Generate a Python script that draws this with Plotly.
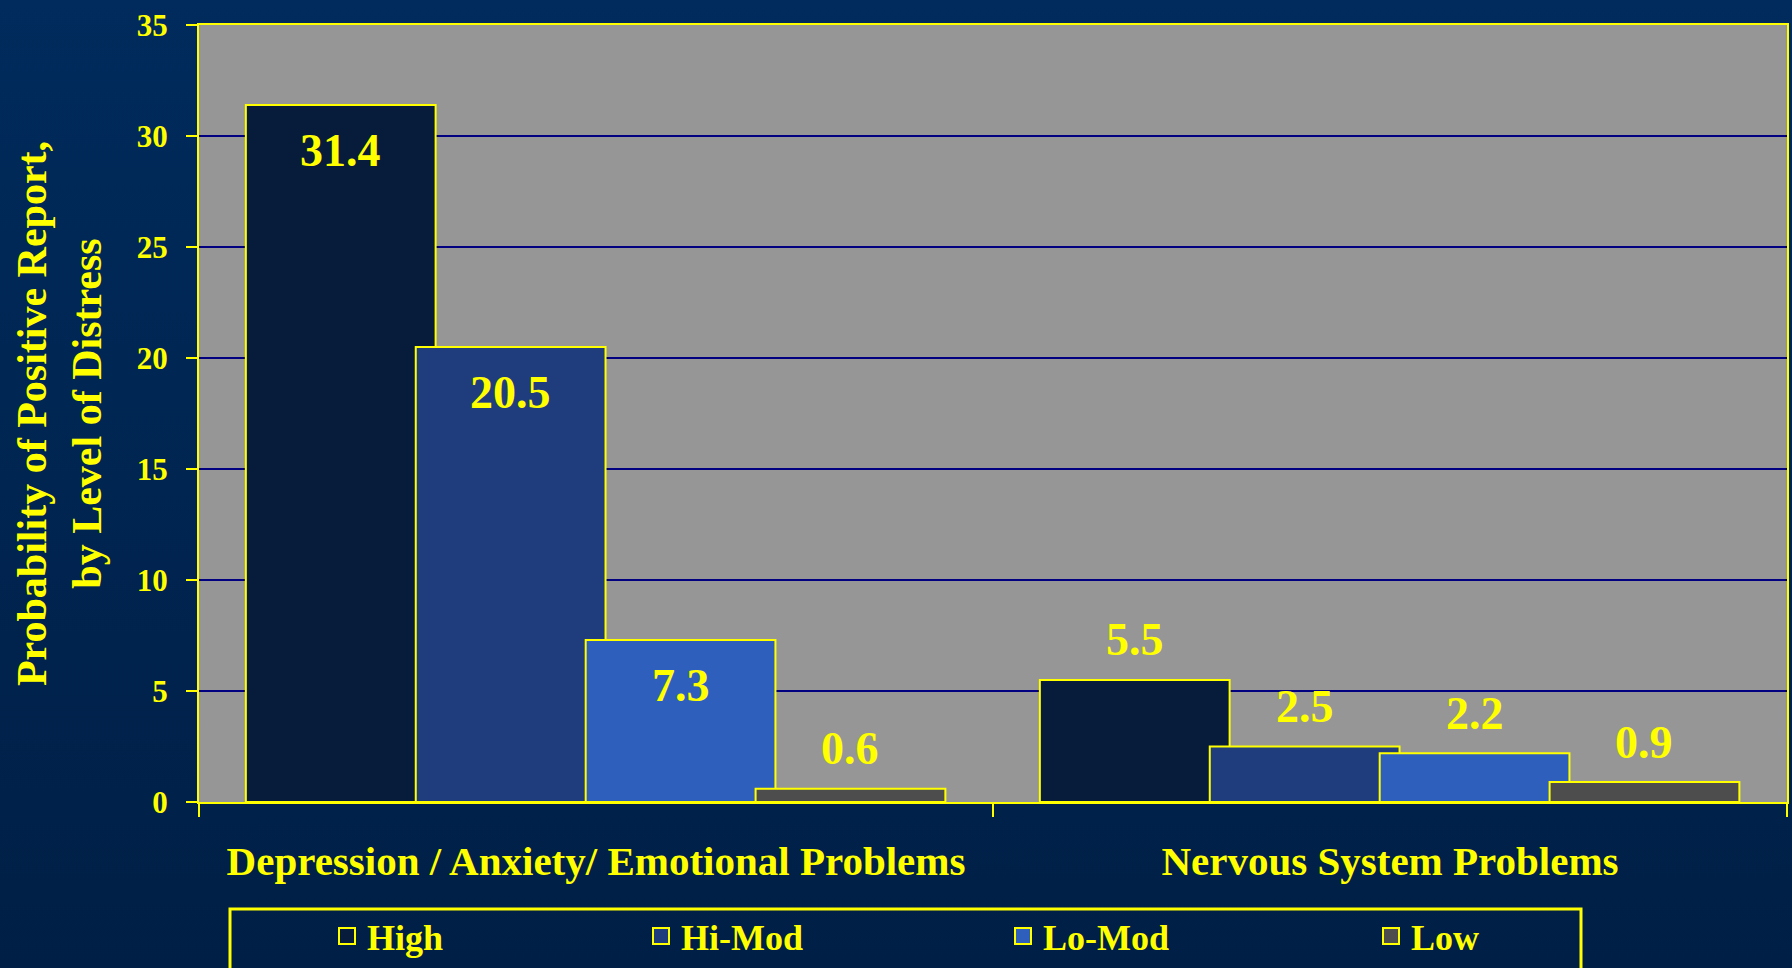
import base64
import plotly.graph_objects as go

# ---------------- data ----------------
categories = ["Depression / Anxiety/ Emotional Problems", "Nervous System Problems"]
series_names = ["High", "Hi-Mod", "Lo-Mod", "Low"]
high = [31.4, 5.5]
hi_mod = [20.5, 2.5]
lo_mod = [7.3, 2.2]
low = [0.6, 0.9]
y_tick_values = [0, 5, 10, 15, 20, 25, 30, 35]
y_title = "Probability of Positive Report,<br>by Level of Distress"

# ---------------- style ----------------
W, H = 1792, 968
ML, MR, MT, MB = 199, 5, 25, 166
PW, PH = W - ML - MR, H - MT - MB
FONT = "Liberation Serif, Times New Roman, serif"
YELLOW = "#ffff00"
colors = ["#071c3b", "#1f3d7c", "#2f5fbd", "#4d4d4d"]
bar_width = 0.239
offsets = [-0.441, -0.227, -0.013, 0.201]
legend_ids = ["legend", "legend2", "legend3", "legend4"]
legend_px = [327, 641, 1003, 1371]   # pixel x of each legend entry
legend_py = 936
inside_threshold = 6

series_values = [high, hi_mod, lo_mod, low]

fig = go.Figure()
annotations = []
for name, vals, color, off, leg in zip(series_names, series_values, colors, offsets, legend_ids):
    fig.add_trace(go.Bar(
        x=categories, y=vals, name=name, showlegend=False,
        width=bar_width, offset=off,
        marker=dict(color=color, line=dict(color=YELLOW, width=2)),
        hoverinfo="x+y+name",
    ))
    # legend entry (square swatch with yellow outline)
    fig.add_trace(go.Scatter(
        x=[None], y=[None], mode="markers", name=name, legend=leg,
        marker=dict(symbol="square", size=16, color=color, line=dict(color=YELLOW, width=2)),
        hoverinfo="skip",
    ))
    for i, v in enumerate(vals):
        inside = v > inside_threshold
        annotations.append(dict(
            x=i + off + bar_width / 2, y=v, xref="x", yref="y",
            text=f"{v:.1f}", showarrow=False,
            yshift=-46 if inside else 40,
            font=dict(family=FONT, size=46, color=YELLOW, weight="bold"),
        ))

# gradient background image
svg = ('<svg xmlns="http://www.w3.org/2000/svg" width="10" height="100" viewBox="0 0 10 100" '
       'preserveAspectRatio="none">'
       '<defs><linearGradient id="g" x1="0" y1="0" x2="0" y2="1">'
       '<stop offset="0" stop-color="#002b5c"/><stop offset="1" stop-color="#001f46"/>'
       '</linearGradient></defs><rect width="10" height="100" fill="url(#g)"/></svg>')
src = "data:image/svg+xml;base64," + base64.b64encode(svg.encode()).decode()

layout_legends = {}
for leg, px in zip(legend_ids, legend_px):
    layout_legends[leg] = dict(
        x=(px - ML) / PW, y=(MT + PH - legend_py) / PH, xanchor="left", yanchor="middle",
        orientation="h", bgcolor="rgba(0,0,0,0)", borderwidth=0,
        font=dict(family=FONT, size=36, color=YELLOW, weight="bold"),
    )

fig.update_layout(
    width=W, height=H,
    margin=dict(l=ML, r=MR, t=MT, b=MB, autoexpand=False),
    paper_bgcolor="#00265a",
    plot_bgcolor="rgba(0,0,0,0)",
    barmode="overlay",
    showlegend=True,
    annotations=annotations,
    **layout_legends,
    images=[dict(source=src, xref="paper", yref="paper", x=-ML / PW, y=1 + MT / PH,
                 sizex=W / PW, sizey=H / PH, sizing="stretch", layer="below",
                 xanchor="left", yanchor="top")],
    shapes=[
        dict(type="rect", xref="paper", yref="paper", x0=0, x1=1, y0=0, y1=1,
             layer="below", line=dict(width=0), fillcolor="#969696"),
        dict(type="rect", xref="paper", yref="paper",
             x0=(230 - ML) / PW, x1=(1581 - ML) / PW,
             y0=(MT + PH - 909) / PH, y1=(MT + PH - 990) / PH,
             line=dict(color=YELLOW, width=3), fillcolor="rgba(0,0,0,0)"),
    ],
    xaxis=dict(
        type="category", range=[-0.5, 1.5], automargin=False,
        showline=True, linecolor=YELLOW, linewidth=2, mirror=True,
        ticks="outside", tickson="boundaries", ticklen=13, tickwidth=2, tickcolor=YELLOW,
        ticklabelstandoff=22,
        tickfont=dict(family=FONT, size=41, color=YELLOW, weight="bold"),
        showgrid=False, zeroline=False,
    ),
    yaxis=dict(
        range=[0, 35], tickvals=y_tick_values, automargin=False,
        showline=True, linecolor=YELLOW, linewidth=2, mirror=True,
        ticks="outside", ticklen=11, tickwidth=2, tickcolor=YELLOW,
        ticklabelstandoff=12,
        tickfont=dict(family=FONT, size=31, color=YELLOW, weight="bold"),
        showgrid=True, gridcolor="#000080", gridwidth=2, zeroline=False,
        title=dict(text=y_title, standoff=22,
                   font=dict(family=FONT, size=42, color=YELLOW, weight="bold")),
    ),
)

fig.write_html(
    "out.html",
    config={"displayModeBar": False},
    post_script="document.body.style.margin='0';document.body.style.overflow='hidden';"
                "document.body.style.background='#00265a';",
)
